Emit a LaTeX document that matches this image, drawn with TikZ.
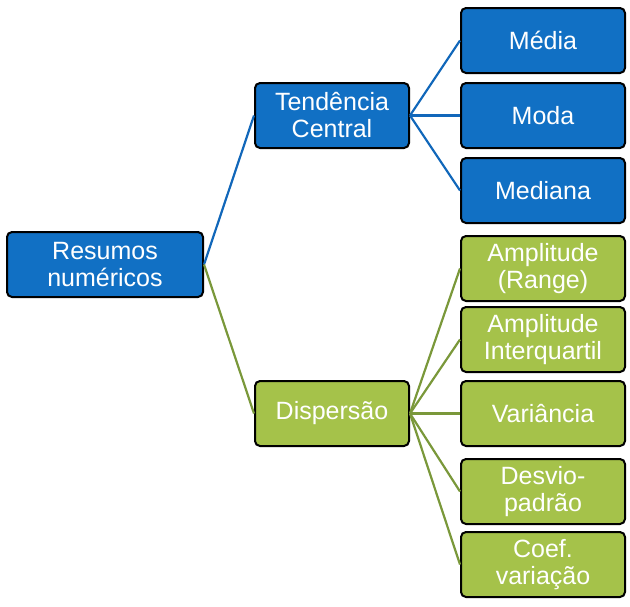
\documentclass[tikz,border=0pt]{standalone}
\usepackage{fontspec}
\setmainfont{Liberation Sans}
\definecolor{boxblue}{HTML}{1170C4}
\definecolor{boxgreen}{HTML}{A5C24A}
\definecolor{lineblue}{HTML}{1167BA}
\definecolor{linegreen}{HTML}{7A983A}
\tikzset{
  box/.style={draw=black, line width=2pt, rounded corners=5pt, text=white,
    align=center, inner sep=0pt, minimum height=65pt,
    font=\fontsize{25pt}{27pt}\selectfont},
  bbox/.style={box, fill=boxblue},
  gbox/.style={box, fill=boxgreen},
  bline/.style={draw=lineblue, line width=2.2pt},
  gline/.style={draw=linegreen, line width=2.2pt}
}
\begin{document}
\begin{tikzpicture}[x=1pt,y=-1pt]
\useasboundingbox (0,0) rectangle (630,606);
% nodes
\node[bbox, minimum width=196pt] (res) at (105,264.5) {Resumos\\numéricos};
\node[bbox, minimum width=154pt] (ten) at (332,115.5) {Tendência\\Central};
\node[gbox, minimum width=154pt] (dis) at (332,413.5) {Dispersão};
\node[bbox, minimum width=164pt] (med) at (543,40.5) {Média};
\node[bbox, minimum width=164pt] (mod) at (543,115.5) {Moda};
\node[bbox, minimum width=164pt] (mdn) at (543,190.5) {Mediana};
\node[gbox, minimum width=164pt] (ran) at (543,268.5) {Amplitude\\(Range)};
\node[gbox, minimum width=164pt] (aiq) at (543,339.5) {Amplitude\\Interquartil};
\node[gbox, minimum width=164pt] (var) at (543,413.5) {Variância};
\node[gbox, minimum width=164pt] (dsv) at (543,491.5) {Desvio-\\padrão};
\node[gbox, minimum width=164pt] (cv) at (543,564.5) {Coef.\\variação};
% connectors
\begin{scope}[on background layer/.style={}]
\draw[bline] (res.east) -- (ten.west);
\draw[gline] (res.east) -- (dis.west);
\draw[bline] (ten.east) -- (med.west);
\draw[bline] (ten.east) -- (mod.west);
\draw[bline] (ten.east) -- (mdn.west);
\draw[gline] (dis.east) -- (ran.west);
\draw[gline] (dis.east) -- (aiq.west);
\draw[gline] (dis.east) -- (var.west);
\draw[gline] (dis.east) -- (dsv.west);
\draw[gline] (dis.east) -- (cv.west);
\end{scope}
\end{tikzpicture}
\end{document}
